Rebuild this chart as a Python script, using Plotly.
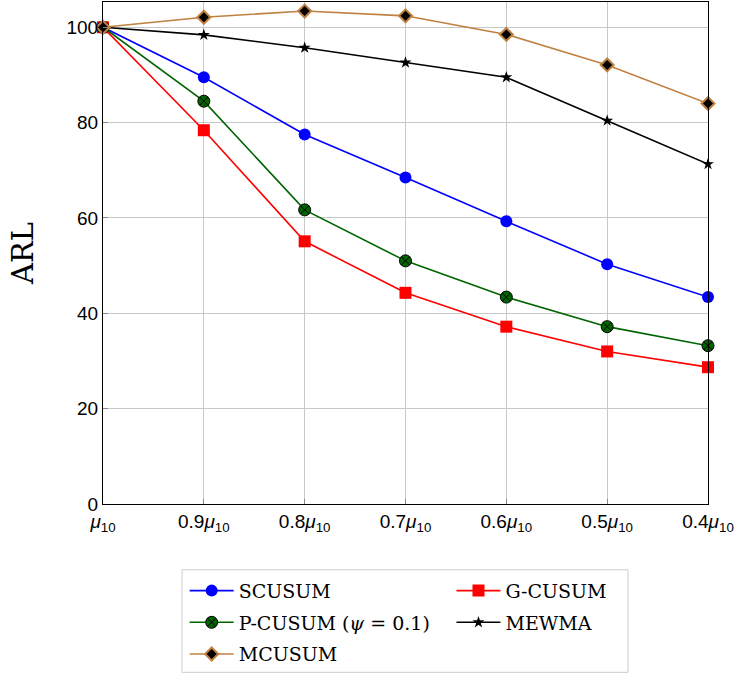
import plotly.graph_objects as go

# Shift levels (fraction of mu_10) and tick labels
shift = [1.0, 0.9, 0.8, 0.7, 0.6, 0.5, 0.4]
shift_labels = ["<i>μ</i><sub>10</sub>", "0.9<i>μ</i><sub>10</sub>", "0.8<i>μ</i><sub>10</sub>",
                "0.7<i>μ</i><sub>10</sub>", "0.6<i>μ</i><sub>10</sub>", "0.5<i>μ</i><sub>10</sub>",
                "0.4<i>μ</i><sub>10</sub>"]
arl_ticks = [0, 20, 40, 60, 80, 100]

# ARL values for each chart
scusum = [100, 89.5, 77.5, 68.5, 59.3, 50.3, 43.4]
gcusum = [100, 78.4, 55.1, 44.3, 37.2, 32.0, 28.7]
pcusum = [100, 84.5, 61.7, 51.0, 43.4, 37.2, 33.2]
mewma = [100, 98.4, 95.7, 92.6, 89.5, 80.4, 71.3]
mcusum = [100, 102.1, 103.4, 102.4, 98.5, 92.1, 84.0]

fig = go.Figure()

def add(y, name, color, symbol, size, mcolor, lcolor, lwidth, legend):
    fig.add_trace(go.Scatter(
        x=shift, y=y, name=name, mode="lines+markers",
        line=dict(color=color, width=1.6),
        marker=dict(symbol=symbol, size=size, color=mcolor,
                    line=dict(color=lcolor, width=lwidth)),
        cliponaxis=False, legend=legend, legendgroup=name,
    ))

add(scusum, "SCUSUM", "#0000ff", "circle", 12, "#0000ff", "#0000ff", 0, "legend")
add(gcusum, "G-CUSUM", "#ff0000", "square", 12, "#ff0000", "#ff0000", 0, "legend2")
add(pcusum, "P-CUSUM (<i>ψ</i> = 0.1)", "#006400", "circle-x", 12, "#006400", "#000000", 1, "legend")
add(mewma, "MEWMA", "#000000", "star", 9, "#000000", "#000000", 0, "legend2")
add(mcusum, "MCUSUM", "#bf8040", "diamond", 10, "#000000", "#bf8040", 2, "legend")

legend_style = dict(
    orientation="v", yanchor="top", xanchor="left",
    font=dict(family="DejaVu Serif", size=19),
    bgcolor="rgba(0,0,0,0)", borderwidth=0, tracegroupgap=4,
    itemwidth=44,
)

fig.update_layout(
    width=736, height=676,
    margin=dict(l=103, r=28, t=2, b=170),
    paper_bgcolor="white", plot_bgcolor="white",
    font=dict(family="Liberation Sans, DejaVu Sans", size=19, color="black"),
    xaxis=dict(
        range=[1.0, 0.4], tickvals=shift, ticktext=shift_labels,
        showgrid=True, gridcolor="#c8c8c8", gridwidth=1,
        showline=True, linecolor="black", linewidth=1.2, mirror=True,
        ticks="inside", ticklen=5, tickcolor="#888888",
        zeroline=False, tickfont=dict(size=19),
    ),
    yaxis=dict(
        range=[0, 105.3], tickvals=arl_ticks,
        showgrid=True, gridcolor="#c8c8c8", gridwidth=1,
        showline=True, linecolor="black", linewidth=1.2, mirror=True,
        ticks="inside", ticklen=5, tickcolor="#888888",
        zeroline=False, tickfont=dict(size=19),
        title=dict(text="ARL", font=dict(family="DejaVu Serif", size=29), standoff=24),
    ),
    legend=dict(x=0.135, y=-0.135, **legend_style),
    legend2=dict(x=0.576, y=-0.135, **legend_style),
    shapes=[dict(type="rect", xref="paper", yref="paper",
                 x0=0.1306, x1=0.8678, y0=-0.3353, y1=-0.131,
                 line=dict(color="#cccccc", width=1), fillcolor="rgba(0,0,0,0)")],
)

fig.write_html("out.html")
